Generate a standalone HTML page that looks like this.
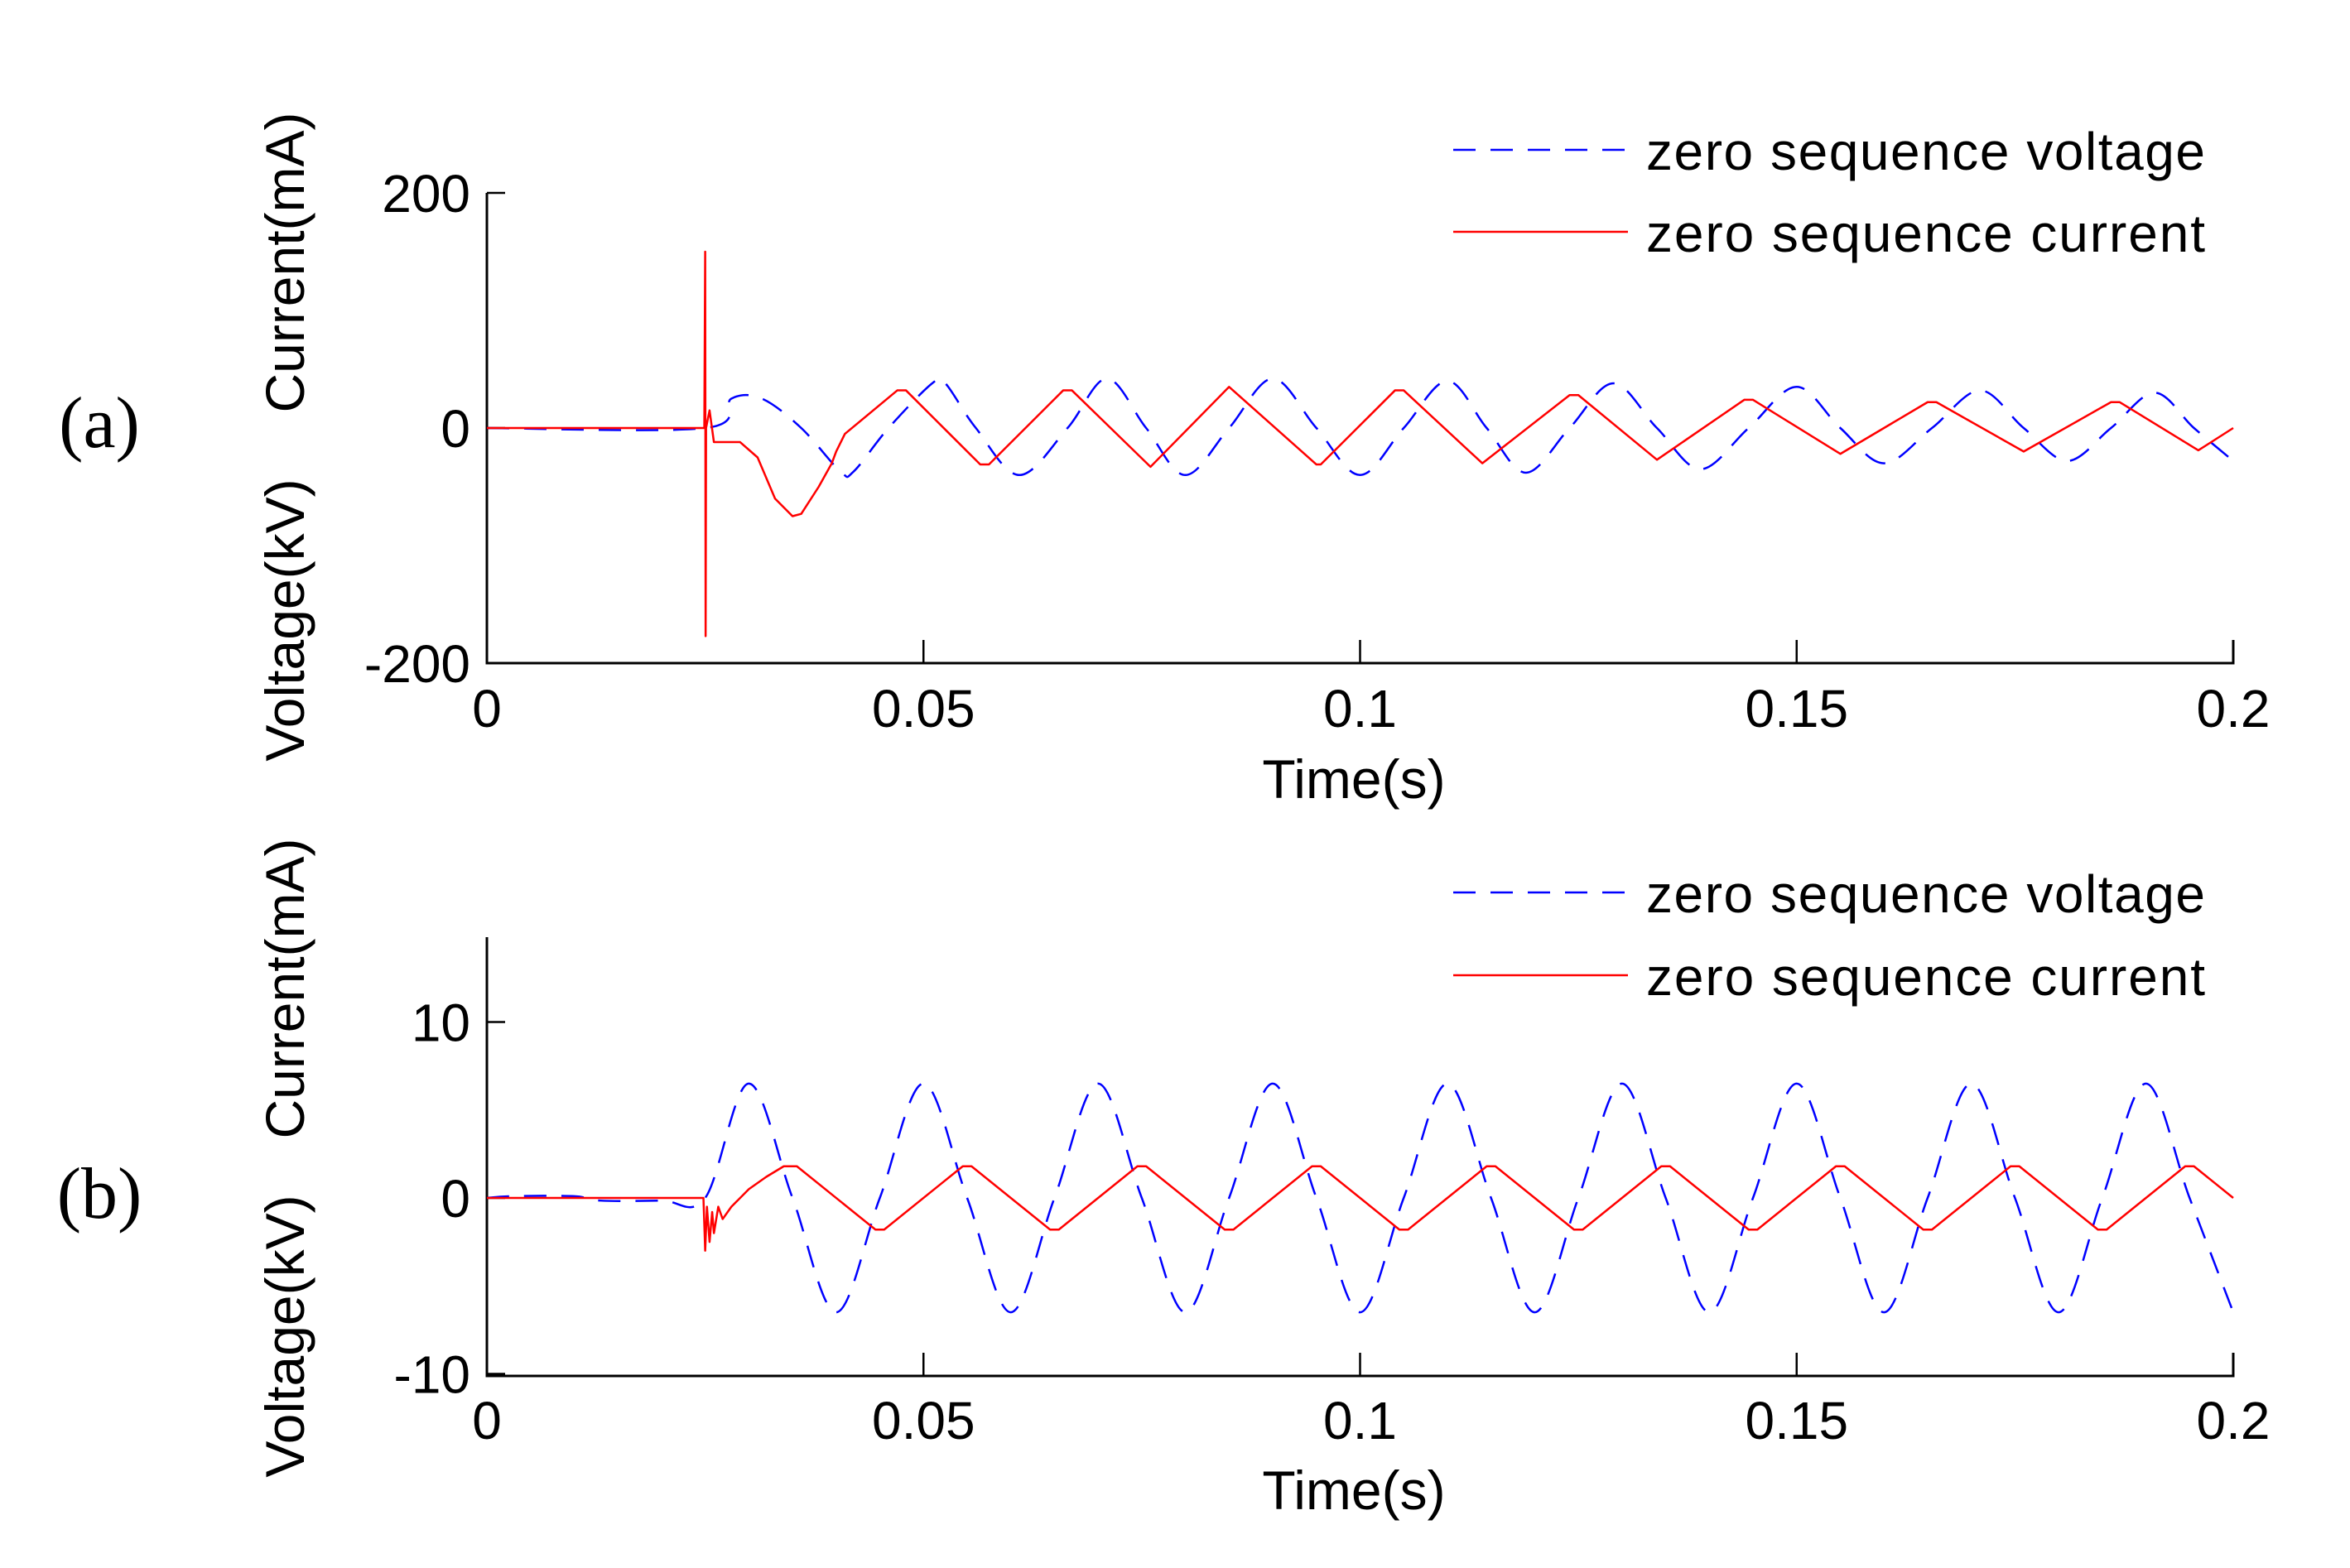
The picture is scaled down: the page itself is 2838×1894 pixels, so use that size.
<!DOCTYPE html>
<html><head><meta charset="utf-8"><style>
html,body{margin:0;padding:0;background:#fff;}
svg{display:block;font-family:"Liberation Sans",Arial,sans-serif;}
</style></head><body>
<svg id="fig" width="2838" height="1894" viewBox="0 0 2838 1894" xmlns="http://www.w3.org/2000/svg">
<rect width="2838" height="1894" fill="#fff"/>
<text x="120" y="540" font-family="Liberation Serif,serif" font-size="88" text-anchor="middle">(a)</text>
<text x="120" y="1471" font-family="Liberation Serif,serif" font-size="88" text-anchor="middle">(b)</text>
<g id="pa"></g>
<g id="pb"></g>
</svg>
<script>
// ---- Panel (a) data ----
const aCurT = [0,0.0249,0.025,0.02505,0.0251,0.0255,0.026,0.029,0.031,0.033,0.035,0.036,0.038,0.0395,0.040,0.041,0.047,0.048,0.0565,0.0575,0.066,0.067,0.076,0.085,0.095,0.0955,0.104,0.105,0.114,0.124,0.125,0.134,0.144,0.145,0.155,0.165,0.166,0.176,0.186,0.187,0.196,0.2];
const aCurV = [0,0,150,-177,0,15,-12,-12,-25,-60,-75,-73,-50,-30,-20,-5,32,32,-31,-31,32,32,-33,35,-31,-31,32,32,-30,28,28,-27,24,24,-22,22,22,-20,22,22,-19,0];
const aVolT = [0,0.025,0.028,0.0315,0.036,0.0405,0.042,0.046,0.051,0.0525,0.056,0.061,0.0665,0.071,0.0755,0.080,0.085,0.090,0.095,0.100,0.105,0.110,0.1145,0.119,0.124,0.129,0.134,0.139,0.1445,0.150,0.155,0.160,0.1655,0.171,0.176,0.181,0.186,0.191,0.1955,0.2];
const aVolV = [0,0,25,25,0,-37,-37,0,38,38,0,-40,0,42,0,-40,0,42,0,-40,0,40,0,-38,0,38,0,-35,0,35,0,-30,0,32,0,-28,0,30,0,-28];
const aYTicks = [-200,0,200];
const aYTickLabels = ["-200","0","200"];
// ---- Panel (b) data ----
const bCurT = [0,0.0248,0.025,0.0252,0.0255,0.0258,0.026,0.0265,0.027,0.028,0.030,0.032,0.034,0.0355,0.0445,0.0455,0.0545,0.0555,0.0645,0.0655,0.0745,0.0755,0.0845,0.0855,0.0945,0.0955,0.1045,0.1055,0.1145,0.1155,0.1245,0.1255,0.1345,0.1355,0.1445,0.1455,0.1545,0.1555,0.1645,0.1655,0.1745,0.1755,0.1845,0.1855,0.1945,0.1955,0.2];
const bCurV = [0,0,-3,-0.5,-2.5,-0.8,-2,-0.5,-1.2,-0.5,0.5,1.2,1.8,1.8,-1.8,-1.8,1.8,1.8,-1.8,-1.8,1.8,1.8,-1.8,-1.8,1.8,1.8,-1.8,-1.8,1.8,1.8,-1.8,-1.8,1.8,1.8,-1.8,-1.8,1.8,1.8,-1.8,-1.8,1.8,1.8,-1.8,-1.8,1.8,1.8,0];
const bVolT = [0,0.003,0.01,0.013,0.02,0.025,0.030,0.035,0.040,0.045,0.050,0.055,0.060,0.065,0.070,0.075,0.080,0.085,0.090,0.095,0.100,0.105,0.110,0.115,0.120,0.125,0.130,0.135,0.140,0.145,0.150,0.155,0.160,0.165,0.170,0.175,0.180,0.185,0.190,0.195,0.2];
const bVolV = [0,0.1,0.1,-0.15,-0.15,0,6.5,0,-6.5,0,6.5,0,-6.5,0,6.5,0,-6.5,0,6.5,0,-6.5,0,6.5,0,-6.5,0,6.5,0,-6.5,0,6.5,0,-6.5,0,6.5,0,-6.5,0,6.5,0,-6.5];
const bYTicks = [-10,0,10];
const bYTickLabels = ["-10","0","10"];
const xTicks = [0,0.05,0.1,0.15,0.2];
const xTickLabels = ["0","0.05","0.1","0.15","0.2"];

const NS="http://www.w3.org/2000/svg";
function mk(tag,parent,attrs){const e=document.createElementNS(NS,tag);for(const k in attrs)e.setAttribute(k,attrs[k]);parent.appendChild(e);return e;}

function panel(g,cfg){
  const X=t=>cfg.x0+(t-0)/(0.2)*(cfg.x1-cfg.x0);
  const Y=v=>cfg.yz-(v)*cfg.ys;
  // axes
  const ax=mk('path',g,{d:`M${cfg.x0},${cfg.ytop} L${cfg.x0},${cfg.ybot} L${cfg.x1},${cfg.ybot} L${cfg.x1},${cfg.ybot-28}`,fill:'none',stroke:'#000','stroke-width':3});
  
  
  xTicks.forEach((t,i)=>{
    if(i>0&&i<xTicks.length-1){const tk=mk('line',g,{x1:X(t),x2:X(t),y1:cfg.ybot,y2:cfg.ybot-28,stroke:'#000','stroke-width':2.5});
    
    }
    const tl=mk('text',g,{x:X(t),y:cfg.xlabY,'font-size':64,'text-anchor':'middle'});tl.textContent=xTickLabels[i];
    
    
  });
  cfg.yt.forEach((v,i)=>{
    const tk=mk('line',g,{x1:cfg.x0,x2:cfg.x0+22,y1:Y(v),y2:Y(v),stroke:'#000','stroke-width':2.5});
    
    
    const tl=mk('text',g,{x:cfg.x0-20,y:Y(v)+23,'font-size':64,'text-anchor':'end'});tl.textContent=cfg.ytl[i];
    
    
  });
  const xt=mk('text',g,{x:1635,y:cfg.titleY,'font-size':66,'text-anchor':'middle'});xt.textContent='Time(s)';
  
  
  const v1=mk('text',g,{x:0,y:0,'font-size':66,'text-anchor':'middle','dominant-baseline':'central',transform:`translate(344,${cfg.voltC}) rotate(-90)`});v1.textContent='Voltage(kV)';
  
  
  const c1=mk('text',g,{x:0,y:0,'font-size':66,'text-anchor':'middle','dominant-baseline':'central',transform:`translate(344,${cfg.curC}) rotate(-90)`});c1.textContent='Current(mA)';
  
  
  // voltage smooth (catmull-rom)
  const pts=cfg.vt.map((t,i)=>[X(t),Y(cfg.vv[i])]);
  let d=`M${pts[0][0]},${pts[0][1]}`;
  for(let i=0;i<pts.length-1;i++){
    const p0=pts[Math.max(i-1,0)],p1=pts[i],p2=pts[i+1],p3=pts[Math.min(i+2,pts.length-1)];
    const c1x=p1[0]+(p2[0]-p0[0])/6,c1y=p1[1]+(p2[1]-p0[1])/6,c2x=p2[0]-(p3[0]-p1[0])/6,c2y=p2[1]-(p3[1]-p1[1])/6;
    d+=` C${c1x},${c1y} ${c2x},${c2y} ${p2[0]},${p2[1]}`;
  }
  const vl=mk('path',g,{d,fill:'none',stroke:'#0000ff','stroke-width':2.5,'stroke-dasharray':'27 18'});
  
  
  const cp=cfg.ct.map((t,i)=>X(t)+','+Y(cfg.cv[i])).join(' ');
  const cl=mk('polyline',g,{points:cp,fill:'none',stroke:'#ff0000','stroke-width':2.5,'stroke-linejoin':'round'});
  
  
  // legend
  const l1=mk('line',g,{x1:1755,x2:1966,y1:cfg.legY1,y2:cfg.legY1,stroke:'#0000ff','stroke-width':2.5,'stroke-dasharray':'27 18'});
  
  
  const t1=mk('text',g,{x:1988,y:cfg.legY1+24,'font-size':64,textLength:675});t1.textContent='zero sequence voltage';
  
  
  const l2=mk('line',g,{x1:1755,x2:1966,y1:cfg.legY2,y2:cfg.legY2,stroke:'#ff0000','stroke-width':2.5});
  
  
  const t2=mk('text',g,{x:1988,y:cfg.legY2+24,'font-size':64,textLength:675});t2.textContent='zero sequence current';
  
  
}
panel(document.getElementById('pa'),{x0:588,x1:2697,ytop:233,ybot:801,yz:517,ys:1.42,yt:aYTicks,ytl:aYTickLabels,xlabY:878,titleY:964,voltC:749,curC:317,vt:aVolT,vv:aVolV,ct:aCurT,cv:aCurV,legY1:181,legY2:280});
panel(document.getElementById('pb'),{x0:588,x1:2697,ytop:1132,ybot:1662,yz:1447,ys:21.25,yt:bYTicks,ytl:bYTickLabels,xlabY:1738,titleY:1823,voltC:1614,curC:1194,vt:bVolT,vv:bVolV,ct:bCurT,cv:bCurV,legY1:1078,legY2:1178});
</script>
</body></html>
